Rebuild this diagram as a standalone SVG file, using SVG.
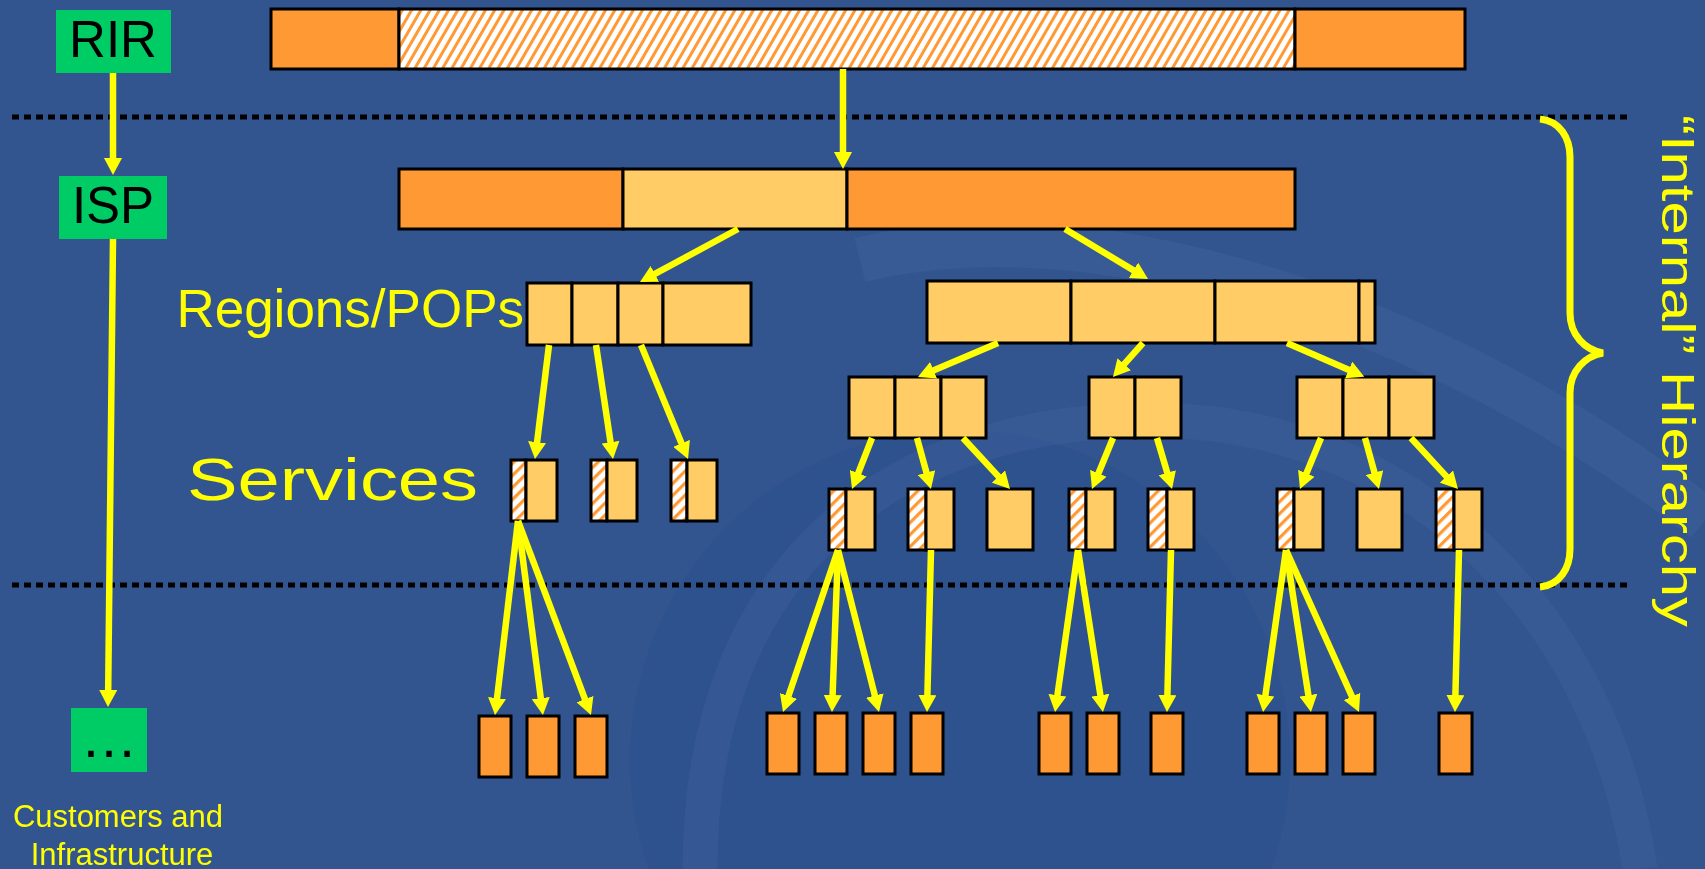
<svg xmlns="http://www.w3.org/2000/svg" width="1705" height="869" viewBox="0 0 1705 869">
<style>
.bg{fill:#325590}
.g{fill:#00CC66}
.o{fill:#FF9933;stroke:#000;stroke-width:3}
.l{fill:#FFCC66;stroke:#000;stroke-width:3}
.h{fill:url(#hatchS);stroke:#000;stroke-width:3}
.hb{fill:url(#hatchB);stroke:#000;stroke-width:3}
.lbl{font-family:"Liberation Sans",Arial,Helvetica,sans-serif;font-size:51px}
.yt{fill:#FFFF00}
.bt{fill:#000}
.ar{stroke:#FFFF00;stroke-width:6.5;fill:none;marker-end:url(#ah)}
.dot{stroke:#000;stroke-width:5;stroke-dasharray:7 5}
</style>
<defs>
<pattern id="hatchB" width="8" height="8" patternUnits="userSpaceOnUse" patternTransform="rotate(30)"><rect width="8" height="8" fill="#FFFFFF"/><rect width="3" height="8" fill="#FF9933"/></pattern>
<pattern id="hatchS" width="8.5" height="8.5" patternUnits="userSpaceOnUse" patternTransform="rotate(45)"><rect width="8.5" height="8.5" fill="#FFFFFF"/><rect width="3.2" height="8.5" fill="#FF9933"/></pattern>
<marker id="ah" markerUnits="userSpaceOnUse" markerWidth="18" markerHeight="18" refX="8" refY="9" orient="auto"><path d="M0,0 L17,9 L0,18 z" fill="#FFFF00"/></marker>
</defs>
<rect class="bg" x="0" y="0" width="1705" height="869"/>
<g id="background-swirl" opacity="0.5">
<circle cx="960" cy="760" r="330" fill="#234888" opacity="0.45"/>
<path d="M860,260 C1100,200 1450,320 1705,520" stroke="#6d8cc0" stroke-width="45" fill="none" opacity="0.25"/>
<path d="M700,869 C700,560 900,420 1150,420 C1400,420 1600,600 1640,869" stroke="#6d8cc0" stroke-width="35" fill="none" opacity="0.2"/>
</g>
<g id="separators">
<line class="dot" x1="12" y1="117" x2="1630" y2="117"/>
<line class="dot" x1="12" y1="585" x2="1630" y2="585"/>
</g>
<g id="rir"><rect class="g" x="56" y="10" width="115" height="63"/><text class="lbl bt" x="113" y="57" text-anchor="middle">RIR</text></g>
<g id="isp"><rect class="g" x="59" y="176" width="108" height="63"/><text class="lbl bt" x="113" y="223" text-anchor="middle">ISP</text></g>
<g id="customers"><rect class="g" x="71" y="708" width="76" height="64"/><text class="lbl bt" style="font-size:57px" x="109" y="757" text-anchor="middle">…</text>
<text class="yt" style="font-family:'Liberation Sans',Arial,sans-serif;font-size:31px" x="118" y="827" text-anchor="middle">Customers and</text>
<text class="yt" style="font-family:'Liberation Sans',Arial,sans-serif;font-size:31px" x="122" y="865" text-anchor="middle">Infrastructure</text></g>
<g id="rir-block"><rect class="o" x="271" y="9" width="128" height="60"/><rect class="hb" x="399" y="9" width="896" height="60"/><rect class="o" x="1295" y="9" width="170" height="60"/></g>
<g id="isp-block"><rect class="o" x="399" y="169" width="224" height="60"/><rect class="l" x="623" y="169" width="224" height="60"/><rect class="o" x="847" y="169" width="448" height="60"/></g>
<g id="regions-left"><rect class="l" x="527" y="283" width="45" height="62"/><rect class="l" x="572" y="283" width="46" height="62"/><rect class="l" x="618" y="283" width="45" height="62"/><rect class="l" x="663" y="283" width="88" height="62"/></g>
<g id="regions-right"><rect class="l" x="927" y="281" width="144" height="62"/><rect class="l" x="1071" y="281" width="144" height="62"/><rect class="l" x="1215" y="281" width="144" height="62"/><rect class="l" x="1359" y="281" width="16" height="62"/></g>
<g id="regions-label"><text class="lbl yt" style="font-size:53px" x="524" y="327" text-anchor="end">Regions/POPs</text></g>
<g id="services-label"><text class="lbl yt" style="font-size:60px" x="187" y="500" textLength="291" lengthAdjust="spacingAndGlyphs">Services</text></g>
<g id="pop-a"><rect class="l" x="849" y="377" width="46" height="61"/><rect class="l" x="895" y="377" width="46" height="61"/><rect class="l" x="941" y="377" width="45" height="61"/></g>
<g id="pop-b"><rect class="l" x="1089" y="377" width="46" height="61"/><rect class="l" x="1135" y="377" width="46" height="61"/></g>
<g id="pop-c"><rect class="l" x="1297" y="377" width="46" height="61"/><rect class="l" x="1343" y="377" width="46" height="61"/><rect class="l" x="1389" y="377" width="45" height="61"/></g>
<g id="svc-l1"><rect class="h" x="511" y="460" width="15" height="61"/><rect class="l" x="526" y="460" width="31" height="61"/></g>
<g id="svc-l2"><rect class="h" x="591" y="460" width="16" height="61"/><rect class="l" x="607" y="460" width="30" height="61"/></g>
<g id="svc-l3"><rect class="h" x="671" y="460" width="16" height="61"/><rect class="l" x="687" y="460" width="30" height="61"/></g>
<g id="svc-a1"><rect class="h" x="829" y="489" width="17" height="61"/><rect class="l" x="846" y="489" width="29" height="61"/></g>
<g id="svc-a2"><rect class="h" x="908" y="489" width="18" height="61"/><rect class="l" x="926" y="489" width="28" height="61"/></g>
<g id="svc-a3"><rect class="l" x="987" y="489" width="46" height="61"/></g>
<g id="svc-b1"><rect class="h" x="1069" y="489" width="17" height="61"/><rect class="l" x="1086" y="489" width="29" height="61"/></g>
<g id="svc-b2"><rect class="h" x="1148" y="489" width="19" height="61"/><rect class="l" x="1167" y="489" width="27" height="61"/></g>
<g id="svc-c1"><rect class="h" x="1277" y="489" width="17" height="61"/><rect class="l" x="1294" y="489" width="29" height="61"/></g>
<g id="svc-c2"><rect class="l" x="1357" y="489" width="45" height="61"/></g>
<g id="svc-c3"><rect class="h" x="1436" y="489" width="18" height="61"/><rect class="l" x="1454" y="489" width="28" height="61"/></g>
<g id="cust-l1"><rect class="o" x="479" y="716" width="32" height="61"/></g>
<g id="cust-l2"><rect class="o" x="527" y="716" width="32" height="61"/></g>
<g id="cust-l3"><rect class="o" x="575" y="716" width="32" height="61"/></g>
<g id="cust-a1"><rect class="o" x="767" y="713" width="32" height="61"/></g>
<g id="cust-a2"><rect class="o" x="815" y="713" width="32" height="61"/></g>
<g id="cust-a3"><rect class="o" x="863" y="713" width="32" height="61"/></g>
<g id="cust-a4"><rect class="o" x="911" y="713" width="32" height="61"/></g>
<g id="cust-b1"><rect class="o" x="1039" y="713" width="32" height="61"/></g>
<g id="cust-b2"><rect class="o" x="1087" y="713" width="32" height="61"/></g>
<g id="cust-b3"><rect class="o" x="1151" y="713" width="32" height="61"/></g>
<g id="cust-c1"><rect class="o" x="1247" y="713" width="32" height="61"/></g>
<g id="cust-c2"><rect class="o" x="1295" y="713" width="32" height="61"/></g>
<g id="cust-c3"><rect class="o" x="1343" y="713" width="32" height="61"/></g>
<g id="cust-c4"><rect class="o" x="1439" y="713" width="33" height="61"/></g>
<g id="brace"><path d="M1540,119 C1560,121 1570,138 1570,157 L1570,313 C1570,335 1585,350 1603,353 C1585,356 1570,371 1570,393 L1570,549 C1570,568 1560,585 1540,587" stroke="#FFFF00" stroke-width="7" fill="none"/>
<text class="yt" style="font-family:'Liberation Sans',Arial,sans-serif;font-size:46px" transform="translate(1662,115) rotate(90)" textLength="512" lengthAdjust="spacingAndGlyphs">“Internal” Hierarchy</text></g>
<g id="connectors">
<line class="ar" x1="113" y1="73" x2="113" y2="166"/>
<line class="ar" x1="113" y1="239" x2="108.1" y2="698"/>
<line class="ar" x1="843" y1="69" x2="843" y2="160"/>
<line class="ar" x1="738" y1="229" x2="647.9" y2="277.7"/>
<line class="ar" x1="1065" y1="229" x2="1140.3" y2="274.4"/>
<line class="ar" x1="549" y1="345" x2="536.1" y2="450.1"/>
<line class="ar" x1="596" y1="345" x2="611.7" y2="450.1"/>
<line class="ar" x1="641" y1="345" x2="684.6" y2="450.7"/>
<line class="ar" x1="518" y1="521" x2="496.1" y2="706.1"/>
<line class="ar" x1="518" y1="521" x2="541.8" y2="706.1"/>
<line class="ar" x1="518" y1="521" x2="587.8" y2="706.6"/>
<line class="ar" x1="998" y1="343" x2="926.2" y2="373.4"/>
<line class="ar" x1="1143" y1="343" x2="1118.9" y2="370.2"/>
<line class="ar" x1="1287" y1="343" x2="1356" y2="373.1"/>
<line class="ar" x1="872" y1="438" x2="855.3" y2="480.6"/>
<line class="ar" x1="917" y1="438" x2="928.6" y2="480.3"/>
<line class="ar" x1="963" y1="438" x2="1003.9" y2="482.4"/>
<line class="ar" x1="1113" y1="438" x2="1095.4" y2="480.7"/>
<line class="ar" x1="1157" y1="438" x2="1169.5" y2="480.4"/>
<line class="ar" x1="1321" y1="438" x2="1303.4" y2="480.7"/>
<line class="ar" x1="1365" y1="438" x2="1376.6" y2="480.3"/>
<line class="ar" x1="1411" y1="438" x2="1451.9" y2="482.4"/>
<line class="ar" x1="838" y1="550" x2="785.9" y2="703.5"/>
<line class="ar" x1="838" y1="550" x2="832.3" y2="703"/>
<line class="ar" x1="838" y1="550" x2="876.8" y2="703.3"/>
<line class="ar" x1="931" y1="550" x2="927.2" y2="703"/>
<line class="ar" x1="1078" y1="550" x2="1056.3" y2="703.1"/>
<line class="ar" x1="1078" y1="550" x2="1101.6" y2="703.1"/>
<line class="ar" x1="1171" y1="550" x2="1167.2" y2="703"/>
<line class="ar" x1="1286" y1="550" x2="1264.3" y2="703.1"/>
<line class="ar" x1="1286" y1="550" x2="1309.6" y2="703.1"/>
<line class="ar" x1="1286" y1="550" x2="1355.3" y2="703.8"/>
<line class="ar" x1="1459" y1="550" x2="1455.2" y2="703"/>
</g>
</svg>
